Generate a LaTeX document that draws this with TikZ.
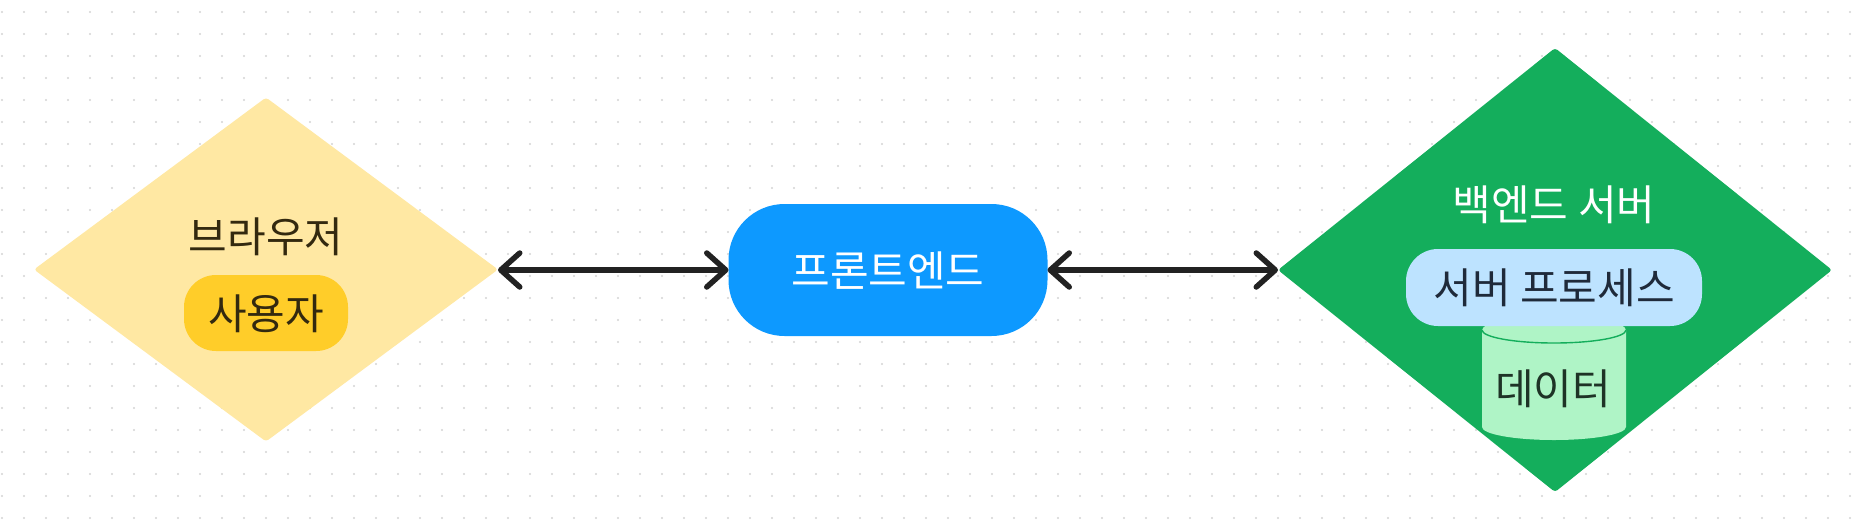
\documentclass[tikz,border=0pt]{standalone}
\usepackage{fontspec}
\setmainfont{Noto Sans CJK KR}
\usetikzlibrary{shapes.geometric,arrows.meta}
\definecolor{bgdot}{HTML}{D4D4D4}
\definecolor{paleyellow}{HTML}{FFE8A3}
\definecolor{chipyellow}{HTML}{FFCD29}
\definecolor{brandblue}{HTML}{0D99FF}
\definecolor{brandgreen}{HTML}{14AE5C}
\definecolor{paleblue}{HTML}{BDE3FF}
\definecolor{palegreen}{HTML}{AFF4C6}
\definecolor{inkbrown}{HTML}{33290F}
\definecolor{inknavy}{HTML}{1F2A3A}
\definecolor{inkgreen}{HTML}{1E3326}
\definecolor{linedark}{HTML}{222222}
\tikzset{
  x=1pt,y=-1pt,
  lab/.style={font=\fontsize{42pt}{46pt}\selectfont,inner sep=0pt,text=inkbrown},
  wlab/.style={lab,text=white},
  dia/.style={diamond,draw=none,inner sep=0pt,outer sep=0pt,rounded corners=3pt},
  chip/.style={rectangle,rounded corners=32pt,inner sep=0pt,outer sep=0pt},
  link/.style={draw=linedark,line width=5.5pt,{Straight Barb[length=19pt,width=34pt,round]}-{Straight Barb[length=19pt,width=34pt,round]}}
}
\begin{document}
\begin{tikzpicture}
\useasboundingbox (0,0) rectangle (1868,528);
\fill[white] (0,0) rectangle (1868,528);
\foreach \i in {0,...,84}{\foreach \j in {0,...,23}{
  \fill[bgdot] ({2+22*\i},{12+22*\j}) circle[radius=1.1pt];
}}
\node[dia,fill=paleyellow,aspect=1.349,minimum width=464pt,minimum height=344pt] (browser) at (266,269.5) {};
\node[chip,fill=chipyellow,minimum width=164pt,minimum height=76pt] (user) at (266,313) {};
\node[lab] (browserlab) at (266,237) {브라우저};
\node[lab] (userlab) at (266,314) {사용자};
\node[chip,fill=brandblue,rounded corners=56pt,minimum width=319pt,minimum height=132pt] (front) at (888,270) {};
\node[wlab] (frontlab) at (888,271) {프론트엔드};
\node[dia,fill=brandgreen,aspect=1.248,minimum width=554pt,minimum height=444pt] (back) at (1555,270) {};
\node[wlab] (backlab) at (1554,205) {백엔드 서버};
\fill[palegreen] (1482,330) -- (1482,427) arc[start angle=180,end angle=0,x radius=72,y radius=13] -- (1626,330) arc[start angle=0,end angle=-180,x radius=72,y radius=13] -- cycle;
\draw[brandgreen,line width=1.4pt] (1482,330) arc[start angle=180,end angle=0,x radius=72,y radius=13];
\node[lab,text=inkgreen] (datalab) at (1553,389) {데이터};
\node[chip,fill=paleblue,minimum width=296pt,minimum height=77pt] (proc) at (1554,287.5) {};
\node[lab,text=inknavy] (proclab) at (1554,288) {서버 프로세스};
\draw[link] (browser.east |- front.west) -- (front.west);
\draw[link] (front.east) -- (back.west);
\end{tikzpicture}
\end{document}
